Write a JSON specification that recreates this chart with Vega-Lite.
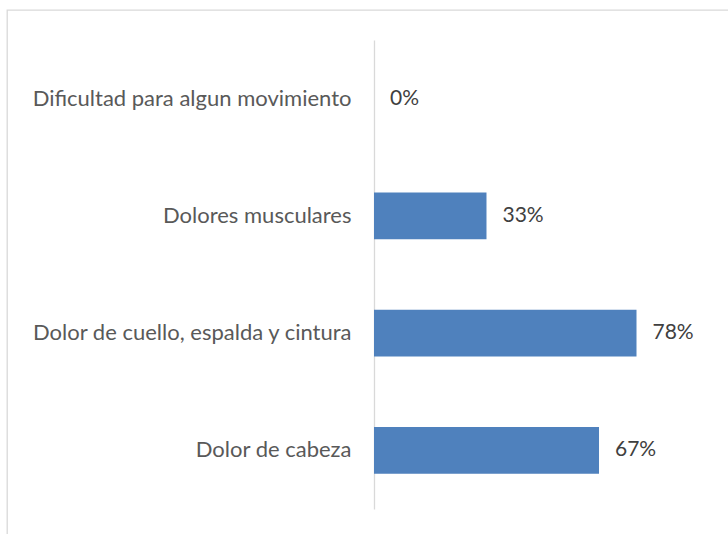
{
  "$schema": "https://vega.github.io/schema/vega-lite/v6.json",
  "autosize": "none",
  "padding": {"left": 7, "top": 10, "right": 0, "bottom": 0},
  "width": 728,
  "height": 530,
  "background": "white",
  "config": {
    "view": {"stroke": "#d9d9d9", "strokeWidth": 1.3},
    "font": "Lato"
  },
  "data": {
    "values": [
      {"categoria": "Dificultad para algun movimiento", "valor": 0},
      {"categoria": "Dolores musculares", "valor": 0.3333},
      {"categoria": "Dolor de cuello, espalda y cintura", "valor": 0.7778},
      {"categoria": "Dolor de cabeza", "valor": 0.6667}
    ]
  },
  "encoding": {
    "y": {
      "field": "categoria",
      "type": "nominal",
      "sort": null,
      "scale": {"range": [30, 499], "paddingInner": 0.6, "paddingOuter": 0.3},
      "axis": {
        "title": null,
        "offset": -367,
        "ticks": false,
        "domainColor": "#d9d9d9",
        "domainWidth": 1.3,
        "labelPadding": 23,
        "labelFont": "Lato",
        "labelFontSize": 22,
        "labelFontWeight": "normal",
        "labelColor": "#595959",
        "labelLimit": 400
      }
    },
    "x": {
      "field": "valor",
      "type": "quantitative",
      "scale": {"domain": [0, 1], "range": [367, 704.5]},
      "axis": null
    }
  },
  "layer": [
    {"mark": {"type": "bar", "color": "#4f81bd"}},
    {
      "mark": {"type": "text", "align": "left", "baseline": "middle", "dx": 16, "font": "Lato", "fontSize": 21, "fontWeight": "normal", "color": "#404040"},
      "encoding": {"text": {"field": "valor", "type": "quantitative", "format": ".0%"}}
    }
  ]
}
